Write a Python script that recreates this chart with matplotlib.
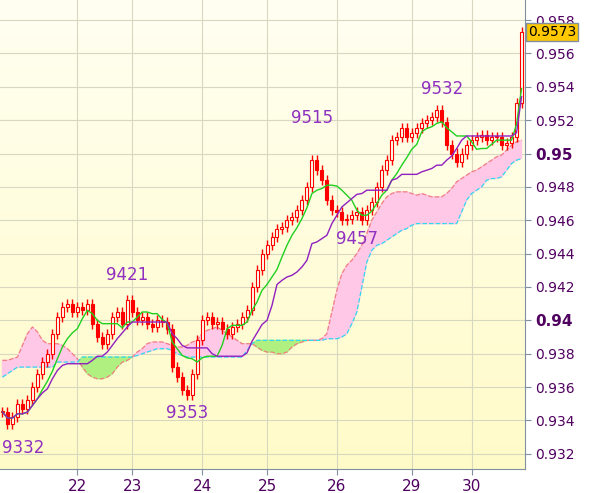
import numpy as np
import pandas as pd
import matplotlib.pyplot as plt
from matplotlib.patches import Rectangle
from matplotlib.colors import LinearSegmentedColormap

# closing prices per bar
closes = [0.9345, 0.9338, 0.9342, 0.9350, 0.9347, 0.9352, 0.9360, 0.9368, 0.9375, 0.9380,
          0.9392, 0.9402, 0.9408, 0.9410, 0.9405, 0.9408, 0.9406, 0.9410, 0.9398, 0.9390,
          0.9386, 0.9392, 0.9402, 0.9405, 0.9398, 0.9412, 0.9405, 0.9400, 0.9402, 0.9398,
          0.9396, 0.9400, 0.9399, 0.9395, 0.9372, 0.9366, 0.9358, 0.9355, 0.9368, 0.9388,
          0.9400, 0.9402, 0.9398, 0.9399, 0.9395, 0.9392, 0.9396, 0.9398, 0.9402, 0.9406,
          0.9420, 0.9430, 0.9440, 0.9445, 0.9450, 0.9455, 0.9456, 0.9460, 0.9462, 0.9466,
          0.9472, 0.9480, 0.9496, 0.9490, 0.9484, 0.9472, 0.9466, 0.9465, 0.9460, 0.9461,
          0.9463, 0.9465, 0.9460, 0.9466, 0.9471, 0.9480, 0.9490, 0.9496, 0.9508, 0.9510,
          0.9515, 0.9510, 0.9512, 0.9515, 0.9518, 0.9520, 0.9522, 0.9526, 0.9519, 0.9505,
          0.9500, 0.9495, 0.9500, 0.9505, 0.9508, 0.9510, 0.9511, 0.9508, 0.9510, 0.9510,
          0.9505, 0.9506, 0.9510, 0.9530, 0.9573]
wick = 0.0003

# cloud edges per bar
span_b = [0.9376, 0.9376, 0.9377, 0.9378, 0.9385, 0.9392, 0.9396, 0.9393, 0.9388, 0.9386,
          0.9386, 0.9386, 0.9385, 0.9383, 0.9380, 0.9377, 0.9372, 0.9368, 0.9366, 0.9365,
          0.9365, 0.9366, 0.9368, 0.9372, 0.9375, 0.9376, 0.9378, 0.9381, 0.9383, 0.9386,
          0.9387, 0.9387, 0.9387, 0.9386, 0.9385, 0.9384, 0.9384, 0.9385, 0.9387, 0.9388,
          0.9392, 0.9394, 0.9395, 0.9396, 0.9394, 0.9392, 0.9390, 0.9388, 0.9386, 0.9386,
          0.9386, 0.9384, 0.9382, 0.9381, 0.9381, 0.9380, 0.9380, 0.9381, 0.9384, 0.9386,
          0.9387, 0.9388, 0.9388, 0.9388, 0.9389, 0.9392, 0.9405, 0.9418, 0.9428, 0.9433,
          0.9436, 0.9440, 0.9445, 0.9452, 0.9460, 0.9465, 0.9470, 0.9474, 0.9476, 0.9477,
          0.9477, 0.9477, 0.9476, 0.9475, 0.9476, 0.9475, 0.9474, 0.9474, 0.9474, 0.9476,
          0.9479, 0.9483, 0.9485, 0.9487, 0.9489, 0.9490, 0.9492, 0.9494, 0.9496, 0.9498,
          0.9499, 0.9502, 0.9505, 0.9507, 0.9508]
span_a = [0.9366, 0.9368, 0.9370, 0.9372, 0.9372, 0.9372, 0.9372, 0.9372, 0.9372, 0.9372,
          0.9372, 0.9375, 0.9375, 0.9375, 0.9375, 0.9375, 0.9378, 0.9378, 0.9378, 0.9378,
          0.9378, 0.9378, 0.9378, 0.9378, 0.9378, 0.9378, 0.9378, 0.9379, 0.9380, 0.9381,
          0.9382, 0.9383, 0.9383, 0.9383, 0.9382, 0.9380, 0.9379, 0.9378, 0.9378, 0.9378,
          0.9378, 0.9378, 0.9378, 0.9378, 0.9378, 0.9378, 0.9378, 0.9378, 0.9378, 0.9382,
          0.9386, 0.9388, 0.9388, 0.9388, 0.9388, 0.9388, 0.9388, 0.9388, 0.9388, 0.9388,
          0.9388, 0.9388, 0.9388, 0.9388, 0.9388, 0.9389, 0.9389, 0.9389, 0.9390, 0.9392,
          0.9398, 0.9405, 0.9420, 0.9435, 0.9442, 0.9445, 0.9446, 0.9448, 0.9450, 0.9452,
          0.9454, 0.9455, 0.9457, 0.9458, 0.9458, 0.9458, 0.9458, 0.9458, 0.9458, 0.9458,
          0.9458, 0.9458, 0.9465, 0.9472, 0.9476, 0.9478, 0.9480, 0.9484, 0.9485, 0.9485,
          0.9486, 0.9490, 0.9494, 0.9496, 0.9497]

day_labels = ["22", "23", "24", "25", "26", "29", "30"]
day_index = [15, 26, 40, 53, 67, 82, 94]

peak_labels = ["9332", "9421", "9353", "9515", "9457", "9532"]
peak_index = [0, 25, 37, 62, 71, 88]
peak_price = [0.9332, 0.9421, 0.9353, 0.9515, 0.9457, 0.9532]
peak_above = [False, True, False, True, False, True]

y_ticks = [0.958, 0.956, 0.954, 0.952, 0.95, 0.948, 0.946, 0.944, 0.942, 0.94,
           0.938, 0.936, 0.934, 0.932]
last_price = 0.9573

df = pd.DataFrame({"close": closes})
df["open"] = df["close"].shift(1).fillna(df["close"])
df["high"] = df[["open", "close"]].max(axis=1) + wick
df["low"] = df[["open", "close"]].min(axis=1) - wick

# conversion / base lines
hi, lo = df["high"], df["low"]
tenkan = (hi.rolling(6, min_periods=1).max() + lo.rolling(6, min_periods=1).min()) / 2
kijun = (hi.rolling(16, min_periods=1).max() + lo.rolling(16, min_periods=1).min()) / 2

fig = plt.figure(figsize=(5.98, 4.93), dpi=100)
ax = fig.add_axes([0.0, 0.049, 0.878, 0.951])
x = np.arange(len(df))
ax.set_xlim(-0.5, len(df) - 0.3)
ax.set_ylim(0.9311, 0.9592)

# background gradient
grad = np.linspace(0, 1, 256).reshape(-1, 1)
bg = LinearSegmentedColormap.from_list("bg", ["#fffbc8", "#fffff2"])
ax.imshow(grad, aspect="auto", cmap=bg, origin="lower",
          extent=[-0.5, len(df) - 0.3, 0.9311, 0.9592], zorder=0)

for t in y_ticks:
    ax.axhline(t, color="#d8d8c0", lw=0.8, zorder=1)
for d in day_index:
    ax.axvline(d, color="#d8d8c0", lw=0.8, zorder=1)

# cloud
a, b = np.array(span_a), np.array(span_b)
ax.fill_between(x, a, b, where=a <= b, color="#ffc8e6", interpolate=True, zorder=2)
ax.fill_between(x, a, b, where=a > b, color="#b0f080", interpolate=True, zorder=2)
ax.plot(x, b, color="#f08080", ls="--", lw=0.9, zorder=3)
ax.plot(x, a, color="#30d8f0", ls="--", lw=0.9, zorder=3)

# candles
for i, r in df.iterrows():
    ax.vlines(i, r["low"], r["high"], color="red", lw=1, zorder=4)
    lo_b = min(r["open"], r["close"])
    h = max(abs(r["close"] - r["open"]), 0.00005)
    face = "red" if r["close"] < r["open"] else "#fffff0"
    ax.add_patch(Rectangle((i - 0.3, lo_b), 0.6, h, facecolor=face,
                           edgecolor="red", lw=0.8, zorder=5))

ax.plot(x, tenkan, color="#20d020", lw=1, zorder=6)
ax.plot(x, kijun, color="#9020c0", lw=1, zorder=6)

for lab, i, p, up in zip(peak_labels, peak_index, peak_price, peak_above):
    ax.text(i, p + (0.0001 if up else -0.0003), lab, color="#9030c0", fontsize=12,
            ha="left" if i == 0 else "center", va="bottom" if up else "top", zorder=7)

ax.set_xticks(day_index)
ax.set_xticklabels(day_labels, color="#500060", fontsize=11)
ax.yaxis.tick_right()
ax.set_yticks(y_ticks)
ylabels = []
for t in y_ticks:
    ylabels.append("%.2f" % t if abs(t * 100 - round(t * 100)) < 1e-6 else "%.3f" % t)
ax.set_yticklabels(ylabels, color="#500060", fontsize=10)
for lab, t in zip(ax.get_yticklabels(), y_ticks):
    if abs(t * 100 - round(t * 100)) < 1e-6:
        lab.set_fontweight("bold")
        lab.set_fontsize(11)
ax.tick_params(axis="both", length=4, color="#8090a0")
for s in ["top", "left"]:
    ax.spines[s].set_visible(False)
ax.spines["right"].set_color("#8090a0")
ax.spines["bottom"].set_color("#8090a0")

ax.text(1.005, last_price, "%.4f" % last_price, transform=ax.get_yaxis_transform(),
        va="center", ha="left", fontsize=10, color="black", zorder=10,
        bbox=dict(boxstyle="square,pad=0.15", facecolor="#ffc800", edgecolor="#8090a0"))

fig.savefig("out.png")
